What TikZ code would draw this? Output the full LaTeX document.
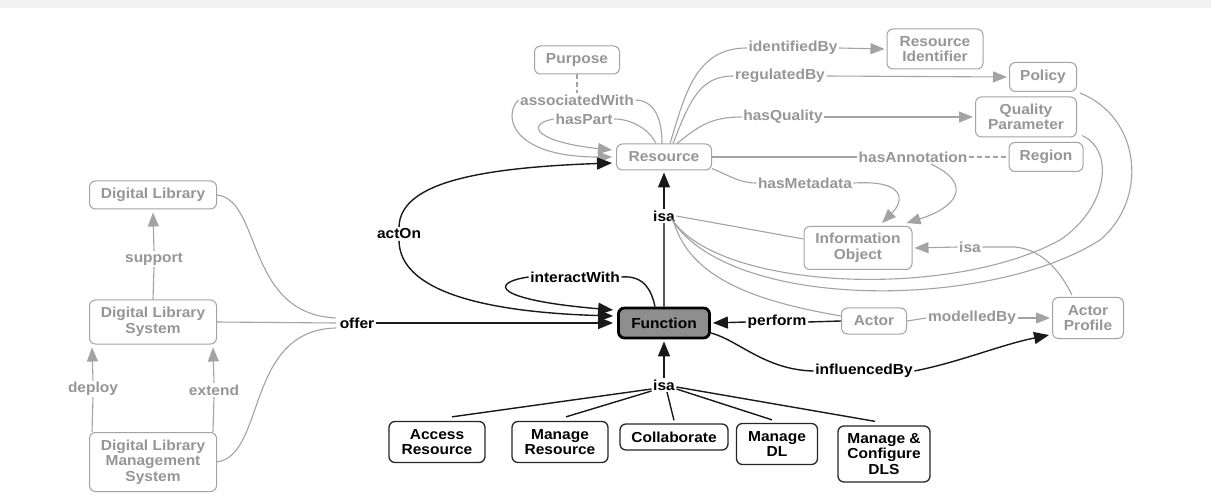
\documentclass[tikz,border=0pt]{standalone}
\usepackage{fontspec}
\setmainfont{Liberation Sans}[FakeStretch=1.07]
\usetikzlibrary{arrows.meta,calc}

\definecolor{gline}{HTML}{A3A3A3}
\definecolor{gtext}{HTML}{969696}
\definecolor{ffill}{HTML}{8E8E8E}
\definecolor{bandgray}{HTML}{F1F1F1}

\tikzset{
  lbl/.style={font=\fontsize{14.5}{15.5}\selectfont\bfseries, align=center},
  gbox/.style={lbl, draw=gline, text=gtext, line width=1pt, rounded corners=6pt,
               inner sep=0pt, minimum width=#1},
  bbox/.style={lbl, draw=black!85, text=black, line width=1.3pt, rounded corners=6pt,
               inner sep=0pt, minimum width=#1},
  fbox/.style={lbl, draw=black, fill=ffill, text=black, line width=2.8pt, rounded corners=6pt,
               inner sep=0pt, minimum width=#1},
  glab/.style={lbl, text=gtext, inner sep=1.5pt},
  blab/.style={lbl, text=black, inner sep=1.5pt},
  gl/.style={draw=gline, line width=1.1pt},
  bl/.style={draw=black!90, line width=1.4pt},
  ga/.style={gl, -{Triangle[length=14pt,width=11pt]}},
  ba/.style={bl, -{Triangle[length=15pt,width=12pt]}},
  gdash/.style={gl, dash pattern=on 5pt off 3pt},
}

\begin{document}
\begin{tikzpicture}[x=1pt,y=-1pt]
  \useasboundingbox (0,0) rectangle (1211,497);
  \fill[white] (0,0) rectangle (1211,497);
  \fill[bandgray] (0,0) rectangle (1211,8);

  % ---------- resource cluster ----------
  \node[gbox=85, minimum height=28] (purpose) at (577,60) {Purpose};
  \node[gbox=95, minimum height=26] (res) at (664,157) {Resource};
  \node[gbox=96, minimum height=40] (rid) at (935,49) {Resource\\Identifier};
  \node[gbox=67, minimum height=29] (policy) at (1043,77) {Policy};
  \node[gbox=101, minimum height=40] (qp) at (1026,117) {Quality\\Parameter};
  \node[gbox=74, minimum height=29] (region) at (1046,157) {Region};
  \node[gbox=108, minimum height=43] (io) at (858,248) {Information\\Object};
  \node[gbox=65, minimum height=26] (actor) at (874,321) {Actor};
  \node[gbox=71, minimum height=41] (ap) at (1088,318) {Actor\\Profile};

  % ---------- function ----------
  \node[fbox=91, minimum height=30] (func) at (664,323) {Function};

  % ---------- digital library stack ----------
  \node[gbox=127, minimum height=28] (dl) at (153,195) {Digital Library};
  \node[gbox=127, minimum height=44] (dls) at (153,322) {Digital Library\\System};
  \node[gbox=127, minimum height=59] (dlms) at (153,462) {Digital Library\\Management\\System};

  % ---------- function subtypes ----------
  \node[bbox=96, minimum height=41] (ar) at (437,442) {Access\\Resource};
  \node[bbox=96, minimum height=41] (mr) at (560,442) {Manage\\Resource};
  \node[bbox=108, minimum height=26] (collab) at (674,437) {Collaborate};
  \node[bbox=81, minimum height=41] (mdl) at (777,444) {Manage\\DL};
  \node[bbox=92, minimum height=56] (mcd) at (884,454) {Manage \&\\Configure\\DLS};

  % ---------- relation labels ----------
  \node[glab] (assoc) at (577,100) {associatedWith};
  \node[glab] (haspart) at (584,119) {hasPart};
  \node[glab] (identby) at (793,48) {identifiedBy};
  \node[glab] (regby) at (780,76) {regulatedBy};
  \node[glab] (hasq) at (783,117) {hasQuality};
  \node[glab] (hasann) at (913,157) {hasAnnotation};
  \node[glab] (hasmeta) at (805,183) {hasMetadata};
  \node[glab] (isaio) at (970,247) {isa};
  \node[glab] (modelled) at (972,318) {modelledBy};
  \node[glab] (support) at (154,259) {support};
  \node[glab] (deploy) at (93,389) {deploy};
  \node[glab] (extend) at (214,390) {extend};

  \node[blab] (isatop) at (664,216) {isa};
  \node[blab] (perform) at (777,322) {perform};
  \node[blab] (influenced) at (864,371) {influencedBy};
  \node[blab] (isabot) at (664,385) {isa};
  \node[blab] (acton) at (399,234) {actOn};
  \node[blab] (interact) at (575,277) {interactWith};
  \node[blab] (offer) at (357,323) {offer};

  % ---------- resource relations ----------
  \draw[gdash] (purpose.south) -- (assoc.north);
  \draw[gl] (assoc.east) .. controls (650,100) and (662,112) .. ($(res.north)+(-2,0)$);
  \draw[ga] (assoc.west) .. controls (503,115) and (510,157) .. ($(res.west)+(-4,0)$);
  \draw[gl] (haspart.east) .. controls (632,119) and (650,130) .. ($(res.north)+(-8,0)$);
  \draw[ga] (haspart.west) .. controls (525,124) and (535,142) .. ($(res.west)+(-4,-7)$);

  \draw[gl] ($(res.north)+(6,0)$) .. controls (685,95) and (695,48) .. (identby.west);
  \draw[ga] (identby.east) -- ($(rid.west)+(-2,0)$);
  \draw[gl] ($(res.north)+(9,0)$) .. controls (690,100) and (700,76) .. (regby.west);
  \draw[ga] (regby.east) -- ($(policy.west)+(-2,0)$);
  \draw[gl] ($(res.north)+(13,0)$) .. controls (700,125) and (712,117) .. (hasq.west);
  \draw[ga] (hasq.east) -- ($(qp.west)+(-2,0)$);

  \draw[gl] (res.east) -- (hasann.west);
  \draw[gdash] (hasann.east) -- (region.west);
  \draw[ga] ($(hasann.south)+(18,0)$) .. controls (975,185) and (955,208) .. ($(io.north east)+(-6,-3)$);
  \draw[gl] ($(res.south east)+(0,-2)$) .. controls (730,176) and (740,183) .. (hasmeta.west);
  \draw[ga] (hasmeta.east) .. controls (905,180) and (905,200) .. ($(io.north)+(24,-3)$);

  % ---------- isa (Function is a Resource) ----------
  \draw[draw=black!65, line width=1.3pt] (func.north) -- (isatop.south);
  \draw[ba] (isatop.north) -- ($(res.south)+(0,2)$);
  \draw[gl] (isatop.east) -- ($(io.west)+(0,-9)$);
  \draw[gl] ($(isatop.south east)+(-3,-2)$) .. controls (690,280) and (760,302) .. ($(actor.west)+(0,-5)$);
  \draw[gl] ($(isatop.south east)+(-4,-3)$) .. controls (720,290) and (950,300) .. (1060,240)
            .. controls (1108,208) and (1115,150) .. ($(qp.south east)+(5,-2)$);
  \draw[gl] ($(isatop.south east)+(-5,-4)$) .. controls (730,312) and (990,310) .. (1100,240)
            .. controls (1148,200) and (1142,118) .. ($(policy.south east)+(3,1)$);

  \draw[ga] (isaio.west) -- ($(io.east)+(2,0)$);
  \draw[gl] (isaio.east) -- (1015,247) .. controls (1045,250) and (1062,275) .. ($(ap.north)+(-16,-2)$);

  \draw[gl] (actor.east) -- (modelled.west);
  \draw[ga] (modelled.east) -- ($(ap.west)+(-2,0)$);

  % ---------- function relations ----------
  \draw[bl] (actor.west) -- (perform.east);
  \draw[ba] (perform.west) -- ($(func.east)+(2,0)$);
  \draw[bl] ($(func.east)+(0,10)$) .. controls (738,340) and (765,370) .. (influenced.west);
  \draw[ba] (influenced.east) .. controls (960,362) and (1000,345) .. ($(ap.south west)+(-3,-4)$);

  \draw[ba] (acton.north) .. controls (400,185) and (470,168) .. ($(res.west)+(-4,6)$);
  \draw[ba] (acton.south) .. controls (400,290) and (480,312) .. ($(func.west)+(-4,-7)$);

  \draw[bl] (interact.east) .. controls (645,275) and (652,292) .. ($(func.north)+(-9,0)$);
  \draw[ba] (interact.west) .. controls (488,283) and (495,300) .. ($(func.west)+(-4,-13)$);

  \draw[ba] (offer.east) -- ($(func.west)+(-4,0)$);

  % ---------- subtypes of Function ----------
  \draw[ba] (isabot.north) -- ($(func.south)+(0,2)$);
  \draw[bl] ($(isabot.west)+(0,4)$) -- ($(ar.north)+(15,-4)$);
  \draw[bl] ($(isabot.west)+(0,6)$) -- ($(mr.north)+(6,-4)$);
  \draw[bl] ($(isabot.south)+(3,0)$) -- ($(collab.north)+(0,-3)$);
  \draw[bl] ($(isabot.east)+(0,4)$) -- ($(mdl.north)+(-5,-3)$);
  \draw[bl] ($(isabot.east)+(0,2)$) -- ($(mcd.north)+(-9,-4)$);

  % ---------- digital library stack ----------
  \draw[gl] (dl.east) .. controls (262,200) and (245,314) .. ($(offer.west)+(-2,-5)$);
  \draw[gl] (dls.east) -- ($(offer.west)+(-2,0)$);
  \draw[gl] (dlms.east) .. controls (266,455) and (245,330) .. ($(offer.west)+(-2,5)$);

  \draw[gl] (dls.north) -- (support.south);
  \draw[ga] (support.north) -- ($(dl.south)+(0,3)$);
  \draw[gl] ($(dlms.north)+(-61,0)$) -- (deploy.south);
  \draw[ga] (deploy.north) -- ($(dls.south)+(-61,3)$);
  \draw[gl] ($(dlms.north)+(60,0)$) -- (extend.south);
  \draw[ga] (extend.north) -- ($(dls.south)+(60,3)$);
\end{tikzpicture}
\end{document}
